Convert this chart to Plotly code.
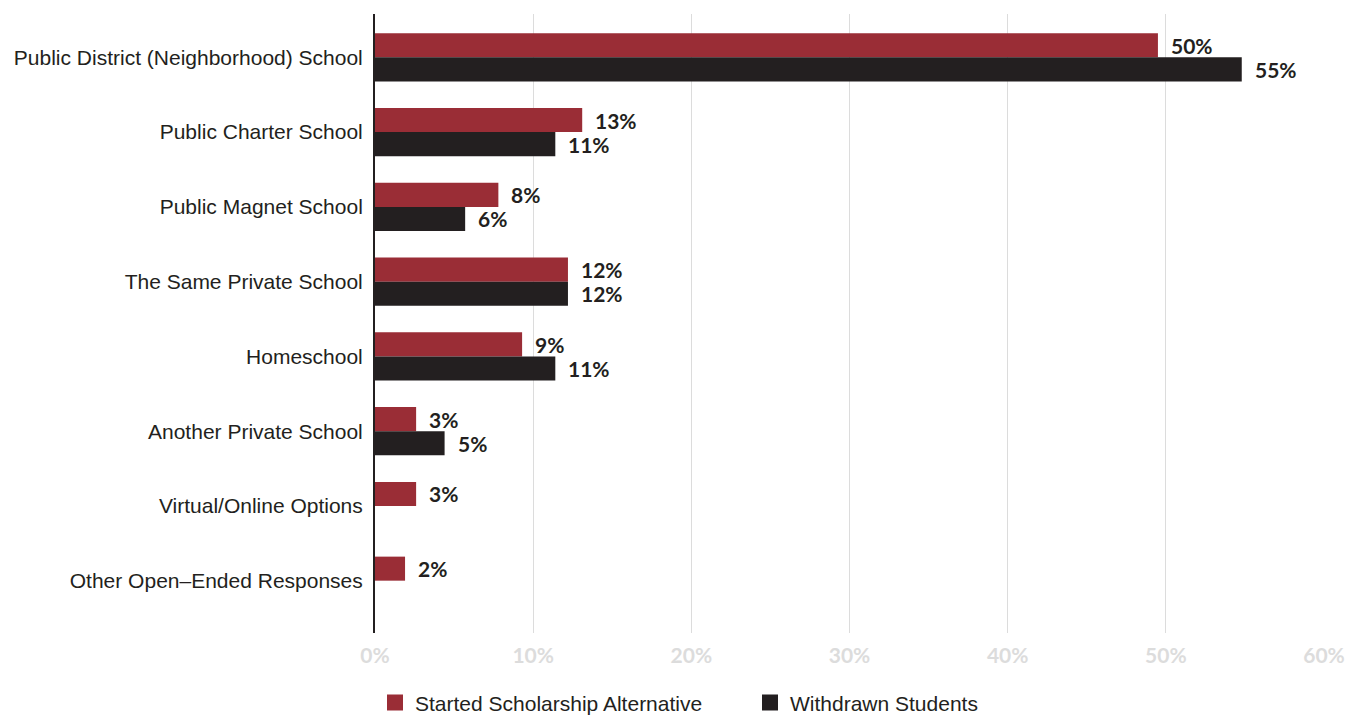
import plotly.graph_objects as go

categories = [
    "Public District (Neighborhood) School",
    "Public Charter School",
    "Public Magnet School",
    "The Same Private School",
    "Homeschool",
    "Another Private School",
    "Virtual/Online Options",
    "Other Open\u2013Ended Responses",
]
started = [49.5, 13.1, 7.8, 12.2, 9.3, 2.6, 2.6, 1.9]
started_labels = ["50%", "13%", "8%", "12%", "9%", "3%", "3%", "2%"]
withdrawn = [54.8, 11.4, 5.7, 12.2, 11.4, 4.4, None, None]
withdrawn_labels = ["55%", "11%", "6%", "12%", "11%", "5%", "", ""]
x_ticks = [0, 10, 20, 30, 40, 50, 60]
x_tick_labels = ["0%", "10%", "20%", "30%", "40%", "50%", "60%"]

RED = "#9a2d36"
BLACK = "#231f20"

fig = go.Figure()
fig.add_trace(go.Bar(
    y=categories, x=started, orientation="h", marker_color=RED,
    marker_line_width=0,
    name="Started Scholarship Alternative", showlegend=False,
    offsetgroup="a",
))
fig.add_trace(go.Bar(
    y=categories, x=withdrawn, orientation="h", marker_color=BLACK,
    marker_line_width=0,
    name="Withdrawn Students", showlegend=False,
    offsetgroup="b",
))

# legend entries with larger square swatches
fig.add_trace(go.Scatter(
    x=[None], y=[None], mode="markers", name="Started Scholarship Alternative",
    marker=dict(symbol="square", size=20, color=RED),
))
fig.add_trace(go.Scatter(
    x=[None], y=[None], mode="markers", name="Withdrawn Students",
    marker=dict(symbol="square", size=20, color=BLACK),
))

annotations = []
label_font = dict(family="Lato", size=21, color=BLACK, weight="bold")
for i, (v, t) in enumerate(zip(started, started_labels)):
    annotations.append(dict(
        x=v, y=i - 0.16, xref="x", yref="y", text=t, showarrow=False,
        xanchor="left", yanchor="middle", xshift=11, font=label_font,
    ))
for i, (v, t) in enumerate(zip(withdrawn, withdrawn_labels)):
    if v is None:
        continue
    annotations.append(dict(
        x=v, y=i + 0.16, xref="x", yref="y", text=t, showarrow=False,
        xanchor="left", yanchor="middle", xshift=11, font=label_font,
    ))

fig.update_layout(
    width=1361, height=715,
    margin=dict(l=375, r=37, t=14, b=82, autoexpand=False),
    paper_bgcolor="white", plot_bgcolor="white",
    barmode="group", bargap=0.357, bargroupgap=0,
    annotations=annotations,
    legend=dict(
        orientation="h", x=0.0, xanchor="left",
        yref="container", y=0.017, yanchor="middle",
        font=dict(family="Liberation Sans", size=21, color="#231f20"),
        itemsizing="trace", traceorder="normal", entrywidth=330,
    ),
    xaxis=dict(
        range=[0, 60], tickvals=x_ticks, ticktext=x_tick_labels,
        showgrid=True, gridcolor="#dcdcdc", gridwidth=1,
        zeroline=False, showline=False,
        ticks="outside", ticklen=4, tickcolor="rgba(0,0,0,0)",
        tickfont=dict(family="Lato", size=21, color="#dcdcdc", weight="bold"),
        fixedrange=True,
    ),
    yaxis=dict(
        type="category", categoryorder="array", categoryarray=categories,
        range=[7.70, -0.58],
        showgrid=False, zeroline=False,
        showline=True, linecolor=BLACK, linewidth=2,
        ticks="outside", ticklen=6, tickcolor="rgba(0,0,0,0)",
        tickfont=dict(family="Liberation Sans", size=21, color="#231f20"),
        fixedrange=True,
    ),
)

fig.write_html("out.html")
